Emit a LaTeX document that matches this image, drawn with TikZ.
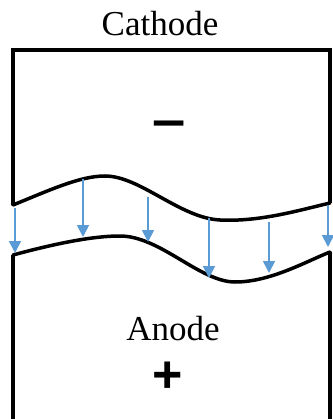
\documentclass[tikz,border=0pt]{standalone}
\usepackage{fontspec}
\setmainfont{Liberation Serif}
\newfontfamily\symfont{Liberation Sans}
\usetikzlibrary{arrows.meta}
\definecolor{flowblue}{RGB}{91,155,213}
\tikzset{
  wall/.style={line width=3.5pt, line join=miter},
  interface/.style={line width=3.5pt, line cap=round},
  flow/.style={flowblue, line width=1.8pt, -{Triangle[width=12pt,length=12pt]}},
  label/.style={font=\fontsize{35}{40}\selectfont, inner sep=0pt, anchor=base},
  sign/.style={font=\symfont\bfseries\fontsize{52}{56}\selectfont, inner sep=0pt, anchor=base}
}
\begin{document}
\begin{tikzpicture}[x=1pt,y=-1pt]
\useasboundingbox (0,0) rectangle (332,419);
% walls
\draw[wall] (13,205) -- (13,50) -- (330,50) -- (330,203);
\draw[wall] (13,255) -- (13,421);
\draw[wall] (330,252) -- (330,421);
% interfaces
\draw[interface] (13,205) .. controls (50,190) and (80,176) .. (105,176)
  .. controls (140,176) and (180,218) .. (220,220)
  .. controls (260,222) and (300,210) .. (330,203);
\draw[interface] (13,255) .. controls (50,245) and (90,236) .. (120,236)
  .. controls (160,236) and (200,282) .. (235,282)
  .. controls (270,282) and (305,262) .. (330,252);
% arrows
\coordinate (a1s) at (15,208);  \coordinate (a1e) at (15,253);
\coordinate (a2s) at (83,179);  \coordinate (a2e) at (83,237);
\coordinate (a3s) at (148,197); \coordinate (a3e) at (148,242);
\coordinate (a4s) at (209,218); \coordinate (a4e) at (209,278);
\coordinate (a5s) at (269,222); \coordinate (a5e) at (269,273);
\coordinate (a6s) at (328,205); \coordinate (a6e) at (328,247);
\foreach \i in {1,...,6} \draw[flow] (a\i s) -- (a\i e);
% labels
\node[label] (cathode) at (160,36) {Cathode};
\node[label] (anode) at (173,340) {Anode};
\node[sign, xscale=1.15] (minus) at (169,138) {–};
\node[sign] (plus) at (168,392) {+};
\end{tikzpicture}
\end{document}
